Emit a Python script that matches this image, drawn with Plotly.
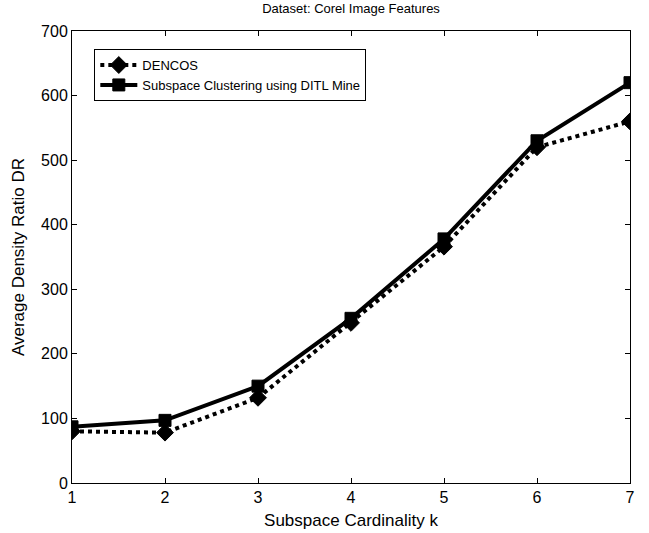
import plotly.graph_objects as go

k = [1, 2, 3, 4, 5, 6, 7]
dencos = [80, 78, 132, 248, 366, 520, 560]
ditl = [87, 97, 150, 255, 378, 530, 620]
x_ticks = [1, 2, 3, 4, 5, 6, 7]
y_ticks = [0, 100, 200, 300, 400, 500, 600, 700]

font = "Liberation Sans, Arial, sans-serif"

fig = go.Figure()
fig.add_trace(go.Scatter(
    x=k, y=dencos, name="DENCOS", mode="lines+markers",
    line=dict(color="black", width=4, dash="4px,4px"),
    marker=dict(symbol="diamond", size=13, color="black",
                line=dict(color="black", width=1)),
))
fig.add_trace(go.Scatter(
    x=k, y=ditl, name="Subspace Clustering using DITL Mine", mode="lines+markers",
    line=dict(color="black", width=4),
    marker=dict(symbol="square", size=12, color="black",
                line=dict(color="black", width=1)),
))

axis_common = dict(
    showgrid=False, zeroline=False, showline=True, linecolor="black",
    linewidth=1, mirror="ticks", ticks="inside", ticklen=5, tickcolor="black",
    tickfont=dict(family=font, size=16, color="black"), automargin=False,
)
fig.update_xaxes(range=[1, 7], tickvals=x_ticks,
                 title=dict(text="Subspace Cardinality k", font=dict(family=font, size=17, color="black"), standoff=8),
                 **axis_common)
fig.update_yaxes(range=[0, 700], tickvals=y_ticks,
                 title=dict(text="Average Density Ratio DR", font=dict(family=font, size=17, color="black"), standoff=12),
                 **axis_common)

fig.update_layout(
    width=649, height=533,
    margin=dict(l=72, r=19, t=31, b=50, autoexpand=False),
    paper_bgcolor="white", plot_bgcolor="white",
    title=dict(text="Dataset: Corel Image Features", x=0.5, xref="paper", xanchor="center",
               y=0.984, yref="container", yanchor="middle",
               font=dict(family=font, size=13, color="black")),
    legend=dict(x=0.04, y=0.96, xanchor="left", yanchor="top",
                bgcolor="white", bordercolor="black", borderwidth=1,
                font=dict(family=font, size=13, color="black"),
                tracegroupgap=0, itemwidth=37),
    showlegend=True,
)

fig.write_html("out.html", config={"displayModeBar": False},
               post_script="document.body.style.margin='0';document.body.style.overflow='hidden';")
